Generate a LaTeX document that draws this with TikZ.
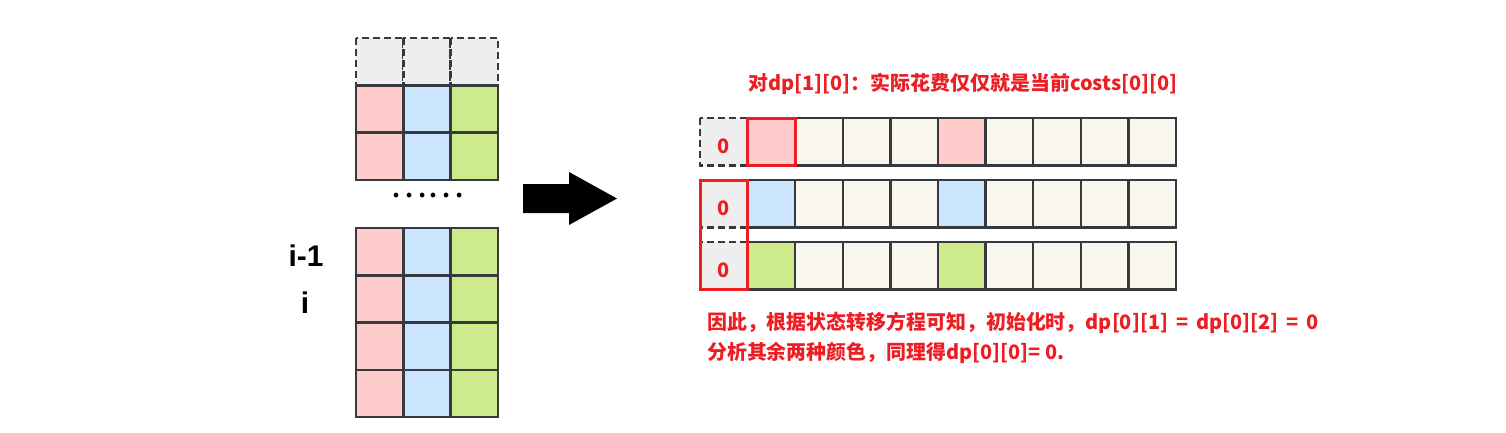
\documentclass[tikz,border=0pt]{standalone}
\usepackage{fontspec}
\setmainfont{Liberation Sans}
\newfontfamily\cjk{Noto Sans CJK SC}
\usetikzlibrary{math}
\definecolor{pinkcell}{RGB}{255, 204, 204}
\definecolor{bluecell}{RGB}{204, 229, 255}
\definecolor{greencell}{RGB}{205, 235, 139}
\definecolor{graycell}{RGB}{238, 238, 238}
\definecolor{emptycell}{RGB}{249, 247, 237}
\definecolor{edge}{RGB}{54, 57, 61}
\definecolor{hot}{RGB}{236, 30, 36}

\tikzset{
  cell/.style={draw=edge, line width=2.4bp},
  ghost/.style={cell, dash pattern=on 7bp off 4bp},
  mark box/.style={draw=hot, line width=3bp},
  note/.style={text=hot, font=\cjk\bfseries\fontsize{20}{24}\selectfont, inner sep=0pt}
}

\begin{document}
\begin{tikzpicture}[x=1bp, y=-1bp]

  \useasboundingbox (0, 0) rectangle (1506, 432);

  \pgfmathsetmacro{\w}{47.3}

  % left table: first rows
  \begin{scope}[shift={(356, 38)}]
    \foreach \c/\col in {0/pinkcell, 1/bluecell, 2/greencell} {
      \pgfmathsetmacro{\xa}{\w * \c}
      \fill[graycell] (\xa, 0) rectangle (\xa + \w, \w);
      \draw[ghost]    (\xa, 0) rectangle (\xa + \w, \w);
      \foreach \r in {1, 2} {
        \pgfmathsetmacro{\ya}{\w * \r}
        \draw[cell, fill=\col] (\xa, \ya) rectangle (\xa + \w, \ya + \w);
      }
    }
  \end{scope}

  \node[inner sep=0pt] (dots) at (427, 196)
    {\cjk\fontsize{35}{35}\selectfont ……};

  % left table: rows i-1 and i
  \begin{scope}[shift={(356, 228)}]
    \foreach \c/\col in {0/pinkcell, 1/bluecell, 2/greencell} {
      \pgfmathsetmacro{\xa}{\w * \c}
      \foreach \r in {0, 1, 2, 3} {
        \pgfmathsetmacro{\ya}{\w * \r}
        \draw[cell, fill=\col] (\xa, \ya) rectangle (\xa + \w, \ya + \w);
      }
    }
  \end{scope}

  \node[font=\bfseries\fontsize{30}{32}\selectfont] (prev) at (306, 256) {i-1};
  \node[font=\bfseries\fontsize{30}{32}\selectfont] (cur)  at (305, 303) {i};

  % big arrow
  \fill[black] (523, 184) -- (569, 184) -- (569, 172) -- (617, 198.5)
            -- (569, 225) -- (569, 213) -- (523, 213) -- cycle;

  % dp rows
  \pgfmathsetmacro{\u}{47.6}
  \foreach \r/\ya/\col in {0/118/pinkcell, 1/180/bluecell, 2/242/greencell} {
    \fill[graycell] (700, \ya) rectangle (700 + \u, \ya + \u);
    \draw[ghost]    (700, \ya) rectangle (700 + \u, \ya + \u);
    \foreach \k in {1, ..., 9} {
      \pgfmathsetmacro{\xa}{700 + \u * \k}
      \ifnum\k=1 \colorlet{custom}{\col}\else
        \ifnum\k=5 \colorlet{custom}{\col}\else \colorlet{custom}{emptycell}\fi\fi
      \draw[cell, fill=custom] (\xa, \ya) rectangle (\xa + \u, \ya + \u);
    }
    \node[note] (zero\r) at (723.5, \ya + 28) {0};
  }

  \draw[mark box] (747.6, 118) rectangle (795.2, 165.6);
  \draw[mark box] (700, 180) rectangle (747.6, 289.6);

  \node[note] (title) at (963, 84) {对dp[1][0]：实际花费仅仅就是当前costs[0][0]};
  \node[note, anchor=west] (line1) at (707, 323)
    {因此，根据状态转移方程可知，初始化时，dp[0][1] \,=\, dp[0][2] \,=\, 0};
  \node[note, anchor=west] (line2) at (707, 353)
    {分析其余两种颜色，同理得dp[0][0]= 0.};

\end{tikzpicture}
\end{document}
